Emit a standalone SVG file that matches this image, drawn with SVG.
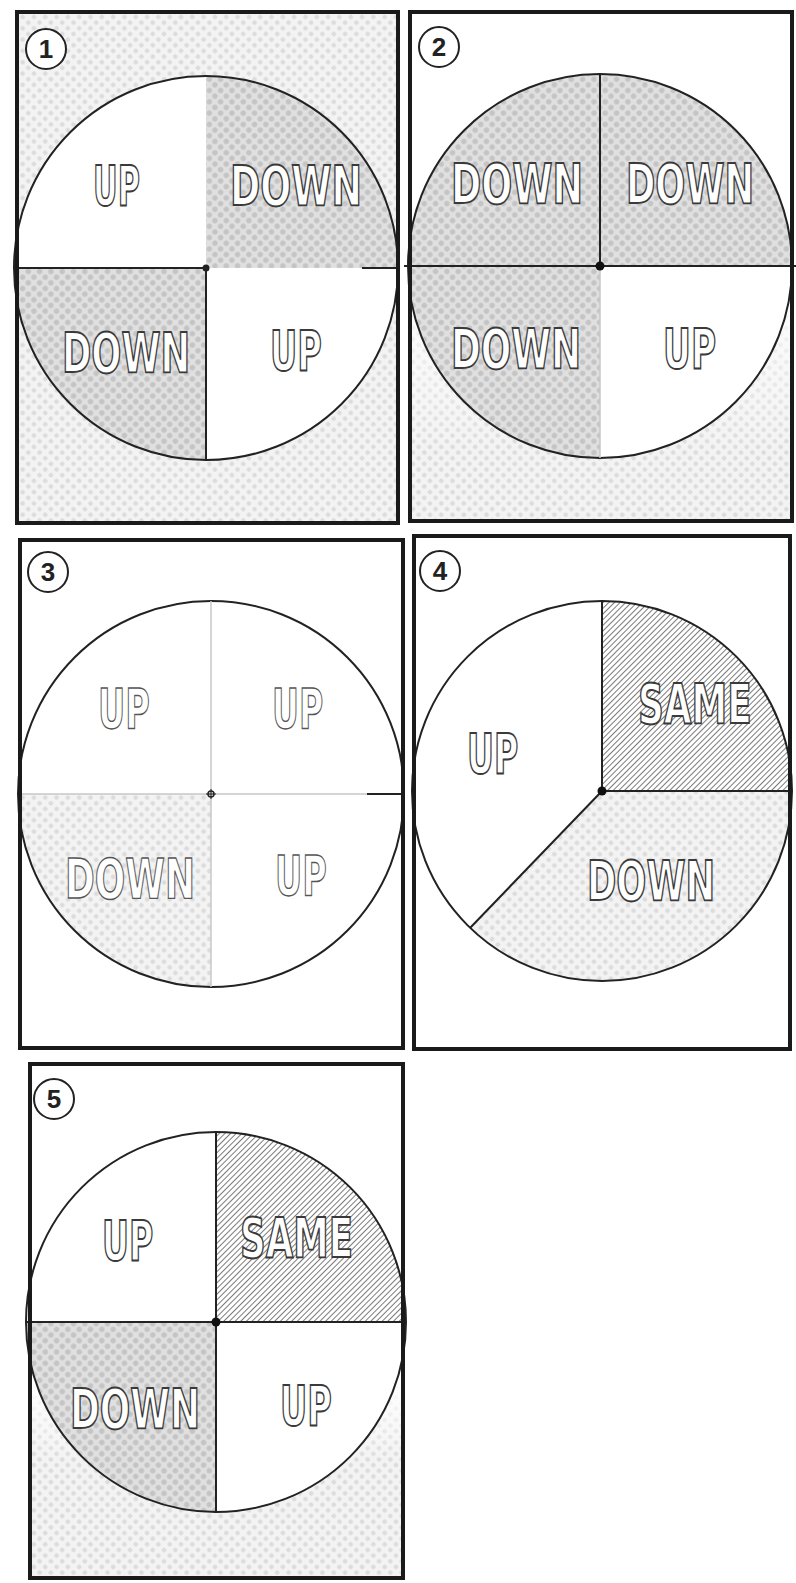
<svg xmlns="http://www.w3.org/2000/svg" width="796" height="1583" viewBox="0 0 796 1583">
<style>
.frame{fill:none;stroke:#1a1a1a;stroke-width:4}
.circ{fill:none;stroke:#222;stroke-width:2}
.div{stroke:#222;stroke-width:2;fill:none}
.faint{stroke:#c8c8c8;stroke-width:1.5;fill:none}
.lbl{font-family:"DejaVu Sans",sans-serif;font-weight:bold;font-size:55px;fill:#fff;stroke:#3a3a3a;stroke-width:1.6;vector-effect:non-scaling-stroke}
.thin{stroke-width:1.2;stroke:#555}
.badge{fill:#fff;stroke:#222;stroke-width:2}
.num{font-family:"Liberation Sans",sans-serif;font-weight:bold;font-size:26px;fill:#222;text-anchor:middle}
</style>
<defs>
<pattern id="htL" width="8" height="8" patternUnits="userSpaceOnUse" patternTransform="rotate(45)"><rect width="8" height="8" fill="#f3f3f3"/><circle cx="4" cy="4" r="2.3" fill="#dcdcdc"/></pattern>
<pattern id="htD" width="8" height="8" patternUnits="userSpaceOnUse" patternTransform="rotate(45)"><rect width="8" height="8" fill="#e0e0e0"/><circle cx="4" cy="4" r="2.7" fill="#c4c4c4"/></pattern>
<pattern id="hatch" width="4" height="4" patternUnits="userSpaceOnUse" patternTransform="rotate(45)"><rect width="4" height="4" fill="#fff"/><line x1="0" y1="0" x2="0" y2="4" stroke="#333" stroke-width="1.3"/></pattern>
<linearGradient id="fadeG" x1="0" y1="0" x2="0" y2="1"><stop offset="0" stop-color="#000"/><stop offset="1" stop-color="#fff"/></linearGradient>
<mask id="fade2" maskUnits="userSpaceOnUse" x="410" y="12" width="382" height="509"><rect x="410" y="250" width="382" height="200" fill="url(#fadeG)"/><rect x="410" y="450" width="382" height="71" fill="#fff"/></mask>
<mask id="fade5" maskUnits="userSpaceOnUse" x="30" y="1064" width="373" height="514"><rect x="30" y="1380" width="373" height="80" fill="url(#fadeG)"/><rect x="30" y="1460" width="373" height="118" fill="#fff"/></mask>
</defs>
<rect width="796" height="1583" fill="#fff"/>

<g id="panel1">
<rect x="17" y="12" width="381" height="511" fill="url(#htL)"/>
<path d="M206,268 L14,268 A192,192 0 0 1 206,76 Z" fill="#fff"/>
<path d="M206,268 L206,76 A192,192 0 0 1 398,268 Z" fill="url(#htD)"/>
<path d="M206,268 L206,460 A192,192 0 0 1 14,268 Z" fill="url(#htD)"/>
<path d="M206,268 L398,268 A192,192 0 0 1 206,460 Z" fill="#fff"/>
<circle class="circ" cx="206" cy="268" r="192"/>
<path class="div" d="M14,268 H206 V460 M362,268 H398"/>
<circle cx="206" cy="268" r="3.5" fill="#222"/>
<rect class="frame" x="17" y="12" width="381" height="511"/>
<circle class="badge" cx="46" cy="49" r="20"/><text class="num" x="46" y="58">1</text>
<text class="lbl" transform="translate(93,205) scale(0.61,1)" textLength="77" lengthAdjust="spacingAndGlyphs">UP</text>
<text class="lbl" transform="translate(230,205) scale(0.65,1)" textLength="203" lengthAdjust="spacingAndGlyphs">DOWN</text>
<text class="lbl" transform="translate(62,372) scale(0.65,1)" textLength="197" lengthAdjust="spacingAndGlyphs">DOWN</text>
<text class="lbl" transform="translate(270,370) scale(0.61,1)" textLength="85" lengthAdjust="spacingAndGlyphs">UP</text>
</g>

<g id="panel2">
<rect x="410" y="12" width="382" height="509" fill="#fff"/>
<rect x="410" y="12" width="382" height="509" fill="url(#htL)" mask="url(#fade2)"/>
<path d="M600,266 L408,266 A192,192 0 0 1 600,74 Z" fill="url(#htD)"/>
<path d="M600,266 L600,74 A192,192 0 0 1 792,266 Z" fill="url(#htD)"/>
<path d="M600,266 L600,458 A192,192 0 0 1 408,266 Z" fill="url(#htD)"/>
<path d="M600,266 L792,266 A192,192 0 0 1 600,458 Z" fill="#fff"/>
<circle class="circ" cx="600" cy="266" r="192"/>
<path class="div" d="M404,266 H796 M600,266 V74"/>
<path class="faint" d="M600,266 V458" stroke="#777"/>
<circle cx="600" cy="266" r="4.5" fill="#111"/>
<rect class="frame" x="410" y="12" width="382" height="509"/>
<circle class="badge" cx="439" cy="47" r="20"/><text class="num" x="439" y="56">2</text>
<text class="lbl" transform="translate(451,203) scale(0.65,1)" textLength="203" lengthAdjust="spacingAndGlyphs">DOWN</text>
<text class="lbl" transform="translate(626,203) scale(0.65,1)" textLength="197" lengthAdjust="spacingAndGlyphs">DOWN</text>
<text class="lbl" transform="translate(451,368) scale(0.65,1)" textLength="200" lengthAdjust="spacingAndGlyphs">DOWN</text>
<text class="lbl" transform="translate(663,368) scale(0.61,1)" textLength="87" lengthAdjust="spacingAndGlyphs">UP</text>
</g>

<g id="panel3">
<rect x="20" y="540" width="383" height="508" fill="#fff"/>
<path d="M211,794 L211,987 A193,193 0 0 1 18,794 Z" fill="url(#htL)"/>
<circle class="circ" cx="211" cy="794" r="193"/>
<path class="faint" d="M18,794 H367 M211,601 V987"/>
<path class="div" d="M367,794 H404"/>
<circle cx="211" cy="794" r="3" fill="none" stroke="#222" stroke-width="1.5"/>
<path d="M206,794 H216 M211,789 V799" stroke="#222" stroke-width="1"/>
<rect class="frame" x="20" y="540" width="383" height="508"/>
<circle class="badge" cx="48" cy="572" r="20"/><text class="num" x="48" y="581">3</text>
<text class="lbl thin" transform="translate(98,728) scale(0.61,1)" textLength="85" lengthAdjust="spacingAndGlyphs">UP</text>
<text class="lbl thin" transform="translate(272,728) scale(0.61,1)" textLength="84" lengthAdjust="spacingAndGlyphs">UP</text>
<text class="lbl thin" transform="translate(65,898) scale(0.65,1)" textLength="200" lengthAdjust="spacingAndGlyphs">DOWN</text>
<text class="lbl thin" transform="translate(275,895) scale(0.61,1)" textLength="85" lengthAdjust="spacingAndGlyphs">UP</text>
</g>

<g id="panel4">
<rect x="414" y="536" width="376" height="513" fill="#fff"/>
<path d="M602,791 L792,791 A190,190 0 0 1 470,928 Z" fill="url(#htL)"/>
<path d="M602,791 L602,601 A190,190 0 0 1 792,791 Z" fill="url(#hatch)"/>
<circle class="circ" cx="602" cy="791" r="190"/>
<path class="div" d="M602,601 V791 H792 M602,791 L470,928"/>
<circle cx="602" cy="791" r="4.5" fill="#111"/>
<rect class="frame" x="414" y="536" width="376" height="513"/>
<circle class="badge" cx="440" cy="571" r="20"/><text class="num" x="440" y="580">4</text>
<text class="lbl" transform="translate(467,773) scale(0.61,1)" textLength="84" lengthAdjust="spacingAndGlyphs">UP</text>
<text class="lbl" transform="translate(638,723) scale(0.65,1)" textLength="175" lengthAdjust="spacingAndGlyphs">SAME</text>
<text class="lbl" transform="translate(587,900) scale(0.65,1)" textLength="197" lengthAdjust="spacingAndGlyphs">DOWN</text>
</g>

<g id="panel5">
<rect x="30" y="1064" width="373" height="514" fill="#fff"/>
<rect x="30" y="1064" width="373" height="514" fill="url(#htL)" mask="url(#fade5)"/>
<path d="M216,1322 L26,1322 A190,190 0 0 1 216,1132 Z" fill="#fff"/>
<path d="M216,1322 L216,1132 A190,190 0 0 1 406,1322 Z" fill="url(#hatch)"/>
<path d="M216,1322 L216,1512 A190,190 0 0 1 26,1322 Z" fill="url(#htD)"/>
<path d="M216,1322 L406,1322 A190,190 0 0 1 216,1512 Z" fill="#fff"/>
<circle class="circ" cx="216" cy="1322" r="190"/>
<path class="div" d="M26,1322 H406 M216,1132 V1512"/>
<circle cx="216" cy="1322" r="4.5" fill="#111"/>
<rect class="frame" x="30" y="1064" width="373" height="514"/>
<circle class="badge" cx="54" cy="1099" r="20"/><text class="num" x="54" y="1108">5</text>
<text class="lbl" transform="translate(102,1260) scale(0.61,1)" textLength="84" lengthAdjust="spacingAndGlyphs">UP</text>
<text class="lbl" transform="translate(240,1257) scale(0.65,1)" textLength="174" lengthAdjust="spacingAndGlyphs">SAME</text>
<text class="lbl" transform="translate(70,1428) scale(0.65,1)" textLength="200" lengthAdjust="spacingAndGlyphs">DOWN</text>
<text class="lbl" transform="translate(280,1425) scale(0.61,1)" textLength="85" lengthAdjust="spacingAndGlyphs">UP</text>
</g>
</svg>
